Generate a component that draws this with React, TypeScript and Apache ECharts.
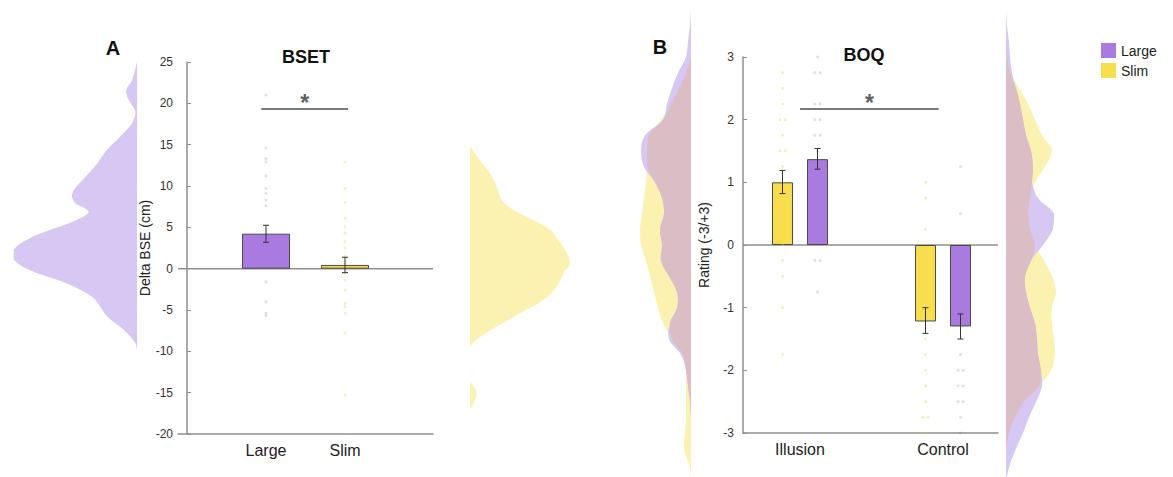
import React, { useEffect, useRef } from 'react';
import * as echarts from 'echarts';

// ---------------- Panel A : BSET ----------------
const bsetCategories = ['Large', 'Slim'];
const bsetMeans = [4.23, 0.45];
const bsetErrLow = [3.19, -0.48];
const bsetErrHigh = [5.25, 1.38];
const bsetLargePoints = [21.0, 14.6, 13.3, 12.9, 11.2, 9.7, 9.1, 8.3, 7.6, -1.6, -4.0, -5.4, -5.7];
const bsetSlimPoints = [12.9, 9.7, 8.0, 6.1, 5.1, 4.3, 3.3, 2.5, 1.5, 0.65, -0.6, -1.4, -2.6, -4.2, -4.6, -5.4, -7.8, -15.3];
const bsetSigSpan = [0.94, 2.04];
const bsetSigLevel = 19.3;

// density outlines [value, density]
const bsetLargeDensity = [
  [25.0, 0], [22.8, 0.05], [21.6, 0.107], [20.4, 0.083], [19.0, 0.017], [17.6, 0.05], [16.0, 0.167],
  [14.4, 0.30], [12.7, 0.40], [11.1, 0.517], [9.5, 0.633], [8.7, 0.65], [7.9, 0.617], [6.9, 0.483],
  [5.9, 0.60], [4.7, 0.867], [3.5, 1.10], [2.3, 1.233], [1.1, 1.233], [-0.2, 1.067], [-1.8, 0.70],
  [-3.4, 0.45], [-4.6, 0.367], [-5.8, 0.30], [-7.4, 0.133], [-9.0, 0.017], [-9.8, 0],
];
const bsetSlimDensity = [
  [14.8, 0], [13.1, 0.10], [11.5, 0.20], [9.9, 0.267], [8.3, 0.317], [7.1, 0.433], [5.9, 0.633],
  [4.7, 0.80], [3.5, 0.883], [1.9, 0.967], [0.65, 1.0], [-0.6, 0.933], [-2.2, 0.867], [-3.8, 0.733],
  [-5.4, 0.50], [-7.0, 0.267], [-8.6, 0.067], [-9.6, 0], [-12.6, 0], [-13.5, 0], [-15.1, 0.067], [-17.1, 0],
];

// ---------------- Panel B : BOQ ----------------
const boqCategories = ['Illusion', 'Control'];
const boqSlimMeans = [1.0, -1.22];
const boqSlimErrLow = [0.82, -1.41];
const boqSlimErrHigh = [1.19, -1.0];
const boqLargeMeans = [1.37, -1.3];
const boqLargeErrLow = [1.21, -1.5];
const boqLargeErrHigh = [1.54, -1.1];
const boqIllusionSlimPoints = [2.75, 2.5, 2.25, 2.0, 2.0, 1.75, 1.5, 1.5, 1.25, 0, -0.25, -0.5, -1.0, -1.75];
const boqIllusionLargePoints = [3.0, 2.75, 2.75, 2.25, 2.25, 2.0, 2.0, 1.75, 1.75, 1.5, -0.25, -0.25, -0.75];
const boqControlSlimPoints = [1.0, 0.75, 0.25, -1.5, -1.75, -2.0, -2.25, -2.5, -2.75, -2.75, -3.0];
const boqControlLargePoints = [1.25, 0.5, -1.75, -2.0, -2.0, -2.25, -2.25, -2.5, -2.5, -2.75, -3.0];
const boqSigSpan = [1.0, 1.97];
const boqSigLevel = 2.17;

const boqDensityValues = [3.75, 3.5, 3.25, 3.0, 2.75, 2.5, 2.25, 2.0, 1.75, 1.5, 1.25, 1.0, 0.75, 0.5, 0.25, 0,
  -0.25, -0.5, -0.75, -1.0, -1.25, -1.5, -1.75, -2.0, -2.25, -2.5, -2.75, -3.0, -3.25, -3.5, -3.75];
const boqLeftLarge = [0, 0.01, 0.03, 0.05, 0.13, 0.19, 0.24, 0.28, 0.46, 0.50, 0.47, 0.36, 0.29, 0.27, 0.31, 0.29,
  0.30, 0.22, 0.14, 0.14, 0.21, 0.22, 0.10, 0.05, 0.03, 0.01, 0, 0, 0, 0, 0];
const boqLeftSlim = [0, 0, 0, 0, 0.05, 0.12, 0.20, 0.30, 0.42, 0.44, 0.44, 0.45, 0.47, 0.49, 0.51, 0.50,
  0.45, 0.41, 0.37, 0.33, 0.28, 0.19, 0.08, 0.05, 0.05, 0.05, 0.05, 0.06, 0.07, 0.02, 0];
const boqRightLarge = [0, 0.01, 0.03, 0.04, 0.06, 0.10, 0.14, 0.17, 0.20, 0.25, 0.27, 0.26, 0.32, 0.48, 0.47, 0.37,
  0.25, 0.19, 0.20, 0.24, 0.29, 0.31, 0.32, 0.35, 0.36, 0.30, 0.23, 0.17, 0.10, 0.04, 0];
const boqRightSlim = [0, 0, 0, 0.01, 0.04, 0.13, 0.22, 0.29, 0.36, 0.46, 0.39, 0.29, 0.24, 0.22, 0.24, 0.29,
  0.38, 0.46, 0.50, 0.46, 0.46, 0.48, 0.49, 0.45, 0.33, 0.18, 0.09, 0.03, 0, 0, 0];

// ---------------- styles / layout ----------------
const FONT = "'Liberation Sans', Arial, Helvetica, sans-serif";
const PURPLE_BAR = '#a97be0';
const YELLOW_BAR = '#f8de4c';
const PURPLE_FILL = '#d6c8f2';
const YELLOW_FILL = '#fbf2b2';
const OVERLAP_FILL = '#dbbec5';
const AXIS_GRAY = '#8f8f8f';
const PURPLE_DOT = 'rgba(120,100,200,0.28)';
const YELLOW_DOT = 'rgba(215,205,60,0.4)';
const A_XMIN = -0.114;
const A_XMAX = 3.114;
const B_XMIN = 0.6014;
const B_XMAX = 2.3846;
const B_OFFSET = 0.1224;

function violin(axis: number, values: number[], dens: number[], color: string, z = 1) {
  return {
    type: 'custom',
    xAxisIndex: axis,
    yAxisIndex: axis,
    clip: false,
    silent: true,
    z,
    data: values.map((v, i) => [dens[i], v]),
    renderItem: (params: any, api: any) => {
      if (params.dataIndex !== 0) return null;
      const pts: number[][] = [api.coord([0, values[0]])];
      values.forEach((v, i) => pts.push(api.coord([dens[i], v])));
      pts.push(api.coord([0, values[values.length - 1]]));
      const xs = pts.map((p) => p[0]);
      const ys = pts.map((p) => p[1]);
      const box = [[Math.min(...xs), Math.min(...ys)], [Math.max(...xs), Math.max(...ys)]];
      return {
        type: 'polygon',
        shape: { points: pts, smooth: 0.35, smoothConstraint: box },
        style: { fill: color },
      };
    },
  };
}

function errorBars(axis: number, xs: number[], lo: number[], hi: number[]) {
  return {
    type: 'custom',
    xAxisIndex: axis,
    yAxisIndex: axis,
    silent: true,
    z: 5,
    data: xs.map((x, i) => [x, lo[i], hi[i]]),
    renderItem: (params: any, api: any) => {
      const x = api.value(0);
      const pLo = api.coord([x, api.value(1)]);
      const pHi = api.coord([x, api.value(2)]);
      const cap = 3;
      const st = { stroke: '#333', lineWidth: 1 };
      return {
        type: 'group',
        children: [
          { type: 'line', shape: { x1: pLo[0], y1: pLo[1], x2: pHi[0], y2: pHi[1] }, style: st },
          { type: 'line', shape: { x1: pLo[0] - cap, y1: pLo[1], x2: pLo[0] + cap, y2: pLo[1] }, style: st },
          { type: 'line', shape: { x1: pHi[0] - cap, y1: pHi[1], x2: pHi[0] + cap, y2: pHi[1] }, style: st },
        ],
      };
    },
  };
}

function jitter(center: number, vals: number[]) {
  const out: number[][] = [];
  vals.forEach((v, i) => {
    const dup = vals.filter((w) => w === v).length;
    const k = vals.slice(0, i).filter((w) => w === v).length;
    const dx = dup > 1 ? (k === 0 ? -0.018 : 0.018) : 0;
    out.push([center + dx, v]);
  });
  return out;
}

function dots(axis: number, data: number[][], color: string) {
  return {
    type: 'scatter',
    xAxisIndex: axis,
    yAxisIndex: axis,
    symbolSize: 3,
    silent: true,
    z: 4,
    itemStyle: { color },
    data,
  };
}

function sigLine(axis: number, span: number[], level: number) {
  return [
    {
      type: 'line',
      xAxisIndex: axis,
      yAxisIndex: axis,
      symbol: 'none',
      silent: true,
      z: 5,
      lineStyle: { color: '#7a7a7a', width: 2 },
      data: [[span[0], level], [span[1], level]],
    },
    {
      type: 'scatter',
      xAxisIndex: axis,
      yAxisIndex: axis,
      symbolSize: 1,
      itemStyle: { color: 'rgba(0,0,0,0)' },
      silent: true,
      z: 5,
      data: [[(span[0] + span[1]) / 2, level]],
      label: {
        show: true,
        position: 'inside',
        offset: [0, -6],
        formatter: '*',
        fontSize: 23,
        fontWeight: 'bold',
        fontFamily: FONT,
        color: '#333',
      },
    },
  ];
}

function zeroLine(axis: number, xmin: number, xmax: number) {
  return {
    type: 'line',
    xAxisIndex: axis,
    yAxisIndex: axis,
    symbol: 'none',
    silent: true,
    z: 2,
    lineStyle: { color: AXIS_GRAY, width: 1.5 },
    data: [[xmin, 0], [xmax, 0]],
  };
}

const yAxisStyle = {
  axisLine: { show: true, lineStyle: { color: AXIS_GRAY, width: 1.5 } },
  axisTick: { show: true, inside: true, length: 4, lineStyle: { color: AXIS_GRAY } },
  splitLine: { show: false },
  nameLocation: 'middle',
  nameTextStyle: { fontSize: 14, color: '#222', fontFamily: FONT },
};

function wideX(gridIndex: number, min: number, max: number) {
  return {
    type: 'value', gridIndex, min, max,
    axisLine: { show: true, onZero: false, lineStyle: { color: AXIS_GRAY, width: 1.5 } },
    axisTick: { show: false }, splitLine: { show: false }, axisLabel: { show: false },
  };
}

function catX(gridIndex: number, data: string[]) {
  return {
    type: 'category', gridIndex, data,
    axisLine: { show: false }, axisTick: { show: false }, splitLine: { show: false },
    axisLabel: { margin: 8, fontSize: 16, color: '#222', fontFamily: FONT },
  };
}

function hiddenAxis(gridIndex: number, min: number, max: number, inverse = false) {
  return { type: 'value', gridIndex, min, max, inverse, show: false };
}

export default function App() {
  const ref = useRef<HTMLDivElement>(null);
  useEffect(() => {
    if (!ref.current) return;
    const chart = echarts.init(ref.current, null, { renderer: 'svg' });

    const leftOverlap = boqLeftLarge.map((d, i) => Math.min(d, boqLeftSlim[i]));
    const rightOverlap = boqRightLarge.map((d, i) => Math.min(d, boqRightSlim[i]));

    const option: any = {
      animation: false,
      backgroundColor: '#ffffff',
      textStyle: { fontFamily: FONT },
      grid: [
        { left: 178, top: 62, width: 255, height: 372 },   // 0 A wide
        { left: 226.5, top: 62, width: 158, height: 372 }, // 1 A bars
        { left: 10, top: 62, width: 127, height: 372 },    // 2 A left violin
        { left: 470, top: 62, width: 110, height: 372 },   // 3 A right violin
        { left: 743, top: 57, width: 255, height: 376 },   // 4 B wide
        { left: 728.5, top: 57, width: 286, height: 376 }, // 5 B bars
        { left: 631, top: 57, width: 60, height: 376 },    // 6 B left violin
        { left: 1006, top: 57, width: 60, height: 376 },   // 7 B right violin
      ],
      xAxis: [
        wideX(0, A_XMIN, A_XMAX),
        catX(1, bsetCategories),
        hiddenAxis(2, 0, 1.27, true),
        hiddenAxis(3, 0, 1.1),
        wideX(4, B_XMIN, B_XMAX),
        catX(5, boqCategories),
        hiddenAxis(6, 0, 0.6, true),
        hiddenAxis(7, 0, 0.6),
      ],
      yAxis: [
        {
          ...yAxisStyle, type: 'value', gridIndex: 0, min: -20, max: 25, interval: 5,
          name: 'Delta BSE (cm)', nameGap: 24,
          axisLabel: { color: '#333', fontSize: 12, fontFamily: FONT, margin: 5 },
        },
        hiddenAxis(1, -20, 25),
        hiddenAxis(2, -20, 25),
        hiddenAxis(3, -20, 25),
        {
          ...yAxisStyle, type: 'value', gridIndex: 4, min: -3, max: 3, interval: 1,
          name: 'Rating (-3/+3)', nameGap: 32,
          axisLabel: { color: '#333', fontSize: 12, fontFamily: FONT, margin: 9 },
        },
        hiddenAxis(5, -3, 3),
        hiddenAxis(6, -3, 3),
        hiddenAxis(7, -3, 3),
      ],
      legend: {
        data: ['Large', 'Slim'],
        orient: 'vertical',
        left: 1101,
        top: 43,
        padding: 0,
        icon: 'rect',
        itemWidth: 15,
        itemHeight: 15,
        itemGap: 5,
        selectedMode: false,
        itemStyle: { borderWidth: 0 },
        textStyle: { fontSize: 14, color: '#222', fontFamily: FONT },
      },
      graphic: [
        { type: 'text', x: 113, y: 48, style: { text: 'A', font: `bold 20px ${FONT}`, fill: '#111', align: 'center', verticalAlign: 'middle' } },
        { type: 'text', x: 660, y: 47, style: { text: 'B', font: `bold 20px ${FONT}`, fill: '#111', align: 'center', verticalAlign: 'middle' } },
        { type: 'text', x: 306, y: 57, style: { text: 'BSET', font: `bold 18px ${FONT}`, fill: '#111', align: 'center', verticalAlign: 'middle' } },
        { type: 'text', x: 864, y: 55, style: { text: 'BOQ', font: `bold 18px ${FONT}`, fill: '#111', align: 'center', verticalAlign: 'middle' } },
      ],
      series: [
        // violins panel A
        violin(2, bsetLargeDensity.map((p) => p[0]), bsetLargeDensity.map((p) => p[1]), PURPLE_FILL),
        violin(3, bsetSlimDensity.map((p) => p[0]), bsetSlimDensity.map((p) => p[1]), YELLOW_FILL),
        // violins panel B
        violin(6, boqDensityValues, boqLeftSlim, YELLOW_FILL, 1),
        violin(6, boqDensityValues, boqLeftLarge, PURPLE_FILL, 2),
        violin(6, boqDensityValues, leftOverlap, OVERLAP_FILL, 3),
        violin(7, boqDensityValues, boqRightSlim, YELLOW_FILL, 1),
        violin(7, boqDensityValues, boqRightLarge, PURPLE_FILL, 2),
        violin(7, boqDensityValues, rightOverlap, OVERLAP_FILL, 3),
        // panel A
        zeroLine(0, A_XMIN, A_XMAX),
        {
          type: 'bar', name: 'Large', xAxisIndex: 1, yAxisIndex: 1, barWidth: 48, barGap: '-100%', z: 3,
          itemStyle: { color: PURPLE_BAR, borderColor: '#4a4a4a', borderWidth: 1 },
          data: [bsetMeans[0], '-'],
        },
        {
          type: 'bar', name: 'Slim', xAxisIndex: 1, yAxisIndex: 1, barWidth: 48, barGap: '-100%', z: 3,
          itemStyle: { color: YELLOW_BAR, borderColor: '#4a4a4a', borderWidth: 1 },
          data: ['-', bsetMeans[1]],
        },
        errorBars(0, [1, 2], bsetErrLow, bsetErrHigh),
        dots(0, bsetLargePoints.map((v) => [1, v]), PURPLE_DOT),
        dots(0, bsetSlimPoints.map((v) => [2, v]), YELLOW_DOT),
        ...sigLine(0, bsetSigSpan, bsetSigLevel),
        // panel B
        zeroLine(4, B_XMIN, B_XMAX),
        {
          type: 'bar', name: 'Slim', xAxisIndex: 5, yAxisIndex: 5, barWidth: 21, barGap: '66.7%', z: 3,
          itemStyle: { color: YELLOW_BAR, borderColor: '#4a4a4a', borderWidth: 1 },
          data: boqSlimMeans,
        },
        {
          type: 'bar', name: 'Large', xAxisIndex: 5, yAxisIndex: 5, barWidth: 21, barGap: '66.7%', z: 3,
          itemStyle: { color: PURPLE_BAR, borderColor: '#4a4a4a', borderWidth: 1 },
          data: boqLargeMeans,
        },
        errorBars(4, [1 - B_OFFSET, 2 - B_OFFSET], boqSlimErrLow, boqSlimErrHigh),
        errorBars(4, [1 + B_OFFSET, 2 + B_OFFSET], boqLargeErrLow, boqLargeErrHigh),
        dots(4, jitter(1 - B_OFFSET, boqIllusionSlimPoints), YELLOW_DOT),
        dots(4, jitter(1 + B_OFFSET, boqIllusionLargePoints), PURPLE_DOT),
        dots(4, jitter(2 - B_OFFSET, boqControlSlimPoints), YELLOW_DOT),
        dots(4, jitter(2 + B_OFFSET, boqControlLargePoints), PURPLE_DOT),
        ...sigLine(4, boqSigSpan, boqSigLevel),
      ],
    };

    chart.setOption(option);
    return () => chart.dispose();
  }, []);

  return (
    <div
      ref={ref}
      style={{ position: 'fixed', left: 0, top: 0, width: 1173, height: 477, background: '#fff' }}
    />
  );
}
